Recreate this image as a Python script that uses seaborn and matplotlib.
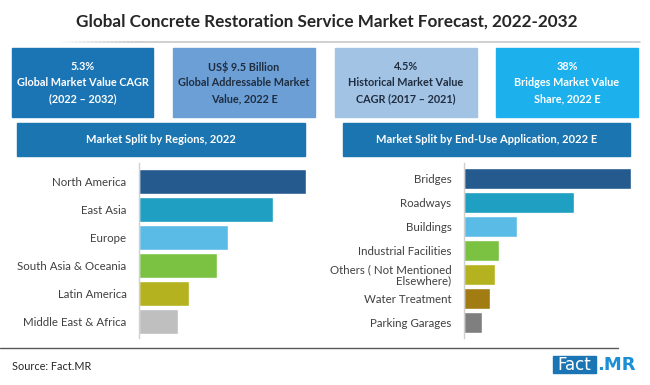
import matplotlib
matplotlib.use("Agg")
import matplotlib.pyplot as plt
from matplotlib.patches import Rectangle
import seaborn as sns
import pandas as pd

# data
regions = ["North America", "East Asia", "Europe", "South Asia & Oceania",
           "Latin America", "Middle East & Africa"]
region_share = [30, 24, 16, 14, 9, 7]
region_colors = ["#245a8e", "#1f9fc2", "#5bbbe7", "#7cc242", "#b4b31f", "#bfbfbf"]

applications = ["Bridges", "Roadways", "Buildings", "Industrial Facilities",
                "Others ( Not Mentioned\nElsewhere)", "Water Treatment", "Parking Garages"]
application_share = [38, 25, 12, 8, 7, 6, 4]
application_colors = ["#245a8e", "#1f9fc2", "#5bbbe7", "#7cc242", "#b4b31f", "#a07c12", "#7f7f7f"]

kpi_texts = ["5.3%\nGlobal Market Value CAGR\n(2022 \u2013 2032)",
             "US$ 9.5 Billion\nGlobal Addressable Market\nValue, 2022 E",
             "4.5%\nHistorical Market Value\nCAGR (2017 \u2013 2021)",
             "38%\nBridges Market Value\nShare, 2022 E"]
kpi_colors = ["#1b75b5", "#6c9fd5", "#a3c3e4", "#1cb0ec"]
kpi_text_colors = ["white", "#1f2d40", "#1f2d40", "white"]

title = "Global Concrete Restoration Service Market Forecast, 2022-2032"
left_header = "Market Split by Regions, 2022"
right_header = "Market Split by End-Use Application, 2022 E"

sns.set_theme(style="white")
plt.rcParams["font.family"] = ["Lato", "DejaVu Sans"]

W, H = 650, 385
fig = plt.figure(figsize=(6.5, 3.85), dpi=100)
fig.patch.set_facecolor("white")


def px_axes(x0, y0, x1, y1):
    # pixel box (top-left origin) -> figure axes
    return fig.add_axes([x0 / W, 1 - y1 / H, (x1 - x0) / W, (y1 - y0) / H])


# background layer for boxes and texts
bg = fig.add_axes([0, 0, 1, 1])
bg.set_xlim(0, W)
bg.set_ylim(H, 0)
bg.axis("off")

bg.text(327, 22, title, ha="center", va="center", fontsize=12.3, fontweight="bold", color="#262626")
# faded separator under the title
for i in range(20):
    bg.plot([60 + i * 4, 64 + i * 4], [42, 42], color="#c8c8c8", lw=1.2, alpha=(i + 1) / 20)
bg.plot([140, 640], [42, 42], color="#c8c8c8", lw=1.2)

kpi_x = [(12, 153), (173, 315), (335, 477), (496, 638)]
for (x0, x1), txt, c, tc in zip(kpi_x, kpi_texts, kpi_colors, kpi_text_colors):
    bg.add_patch(Rectangle((x0, 48), x1 - x0, 69, color=c))
    bg.text((x0 + x1) / 2, 82.5, txt, ha="center", va="center", fontsize=7.8,
            fontweight="bold", color=tc, linespacing=1.55)

for (x0, x1), txt in zip([(17, 305), (343, 630)], [left_header, right_header]):
    bg.add_patch(Rectangle((x0, 123), x1 - x0, 33, color="#1b75b0"))
    bg.text((x0 + x1) / 2, 139.5, txt, ha="center", va="center", fontsize=8,
            fontweight="bold", color="white")

bg.plot([0, 618], [348, 348], color="#595959", lw=1)
bg.text(12, 366, "Source: Fact.MR", ha="left", va="center", fontsize=7.8, color="#262626")
bg.add_patch(Rectangle((553, 356), 43, 17, color="#1b75b5"))
bg.text(574.5, 364.5, "Fact", ha="center", va="center", fontsize=12, color="white",
        family="DejaVu Sans")
bg.text(597, 364.5, ".MR", ha="left", va="center", fontsize=13, fontweight="bold",
        color="#1b8fd6", family="DejaVu Sans")

# left bar chart
df_left = pd.DataFrame({"region": regions, "share": region_share})
ax1 = px_axes(139, 163, 306, 338)
sns.barplot(data=df_left, x="share", y="region", hue="region", palette=region_colors,
            legend=False, width=0.89, saturation=1, ax=ax1)
ax1.set_xlim(0, max(region_share))
ax1.set_ylim(5 + 16.5 / 28, -18.5 / 28)

# right bar chart
df_right = pd.DataFrame({"application": applications, "share": application_share})
ax2 = px_axes(464, 163, 631, 338)
sns.barplot(data=df_right, x="share", y="application", hue="application",
            palette=application_colors, legend=False, width=0.875, saturation=1, ax=ax2)
ax2.set_xlim(0, max(application_share))
ax2.set_ylim(6 + 15.5 / 24, -15.5 / 24)

for ax in (ax1, ax2):
    ax.set_facecolor("none")
    ax.set_xlabel("")
    ax.set_ylabel("")
    ax.set_xticks([])
    ax.tick_params(axis="y", length=0, pad=9, labelsize=8.3, labelcolor="#404040")
    for s in ("top", "right", "bottom"):
        ax.spines[s].set_visible(False)
    ax.spines["left"].set_color("#d0d0d0")
    ax.spines["left"].set_linewidth(1)

for lbl in ax2.get_yticklabels():
    lbl.set_linespacing(0.95)

fig.savefig("out.png", dpi=100, facecolor="white")
